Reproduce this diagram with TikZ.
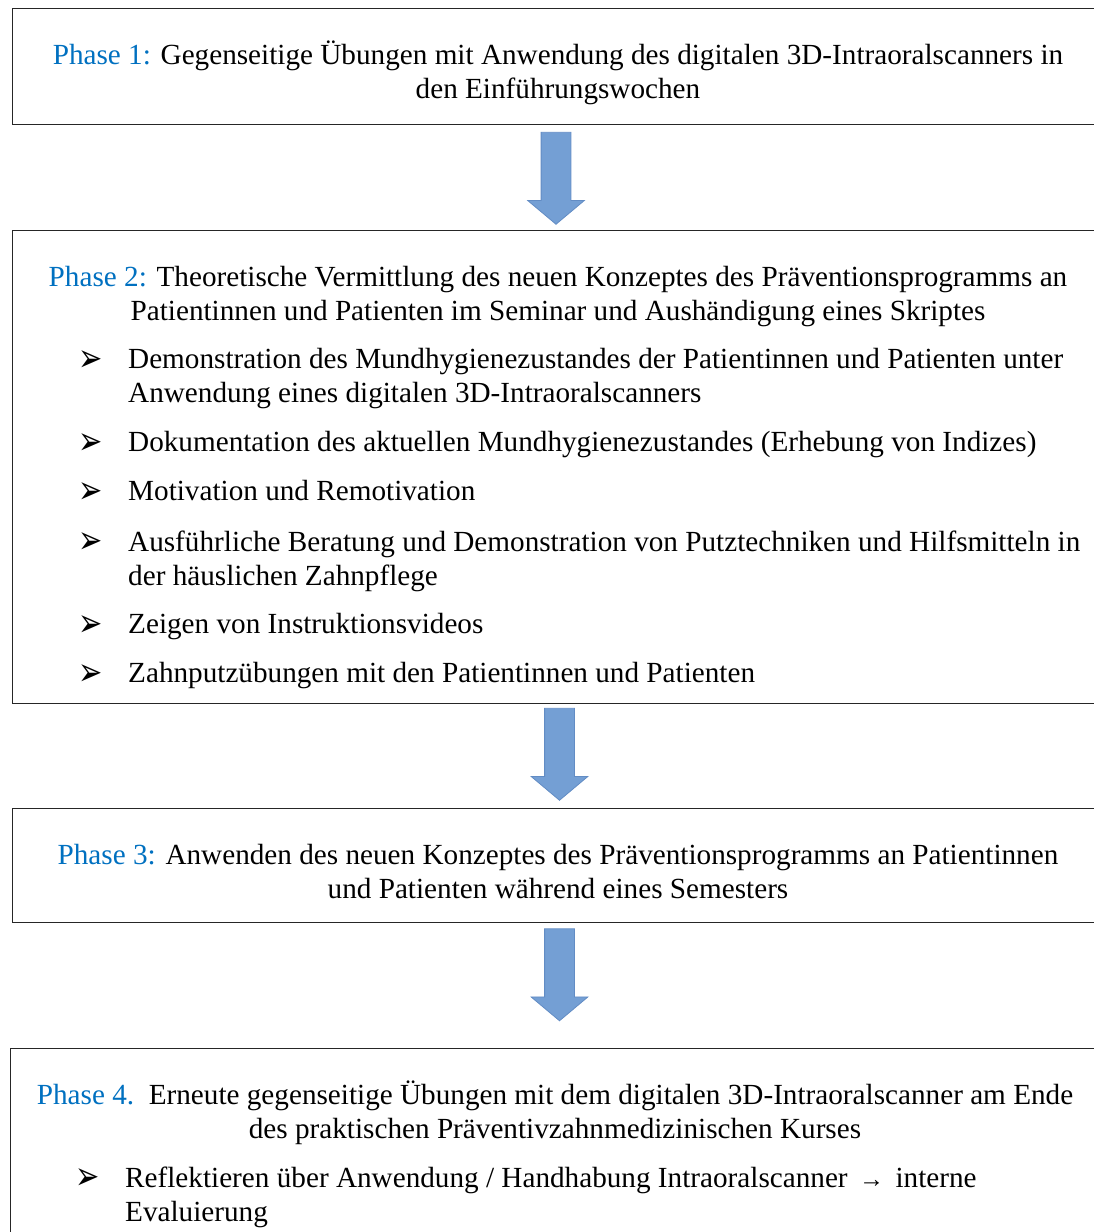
\documentclass[tikz,border=0pt]{standalone}
\usepackage{fontspec}
\setmainfont{Liberation Serif}
\newfontfamily\symfont{DejaVu Sans}
\usetikzlibrary{shapes,arrows,positioning,calc}
\definecolor{phaseblue}{RGB}{0,112,192}
\definecolor{arrowfill}{RGB}{116,159,212}
\definecolor{arrowline}{RGB}{98,140,196}
\tikzstyle{PhaseBox} = [draw=black!85, line width=1.2pt, rectangle, anchor=north west, minimum width=1094pt, inner sep=0pt]
\tikzstyle{Head} = [align=center, anchor=north, inner sep=0pt, font=\fontsize{29.2}{34}\selectfont, execute at begin node=\rule{0pt}{28pt}]
\tikzstyle{Item} = [align=left, anchor=north west, inner sep=0pt, font=\fontsize{29.2}{34}\selectfont, execute at begin node=\rule{0pt}{28pt}]
\tikzstyle{Bullet} = [anchor=base, inner sep=0pt, font=\symfont\fontsize{29}{34}\selectfont]
\tikzstyle{Flow} = [single arrow, rotate=-90, fill=arrowfill, draw=arrowline, line width=0.8pt, minimum height=92pt, inner xsep=0pt, inner ysep=14.5pt, single arrow head extend=13.5pt, single arrow tip angle=100]
\newcommand{\phase}[1]{\textcolor{phaseblue}{#1}}
\newcommand{\tick}{\scalebox{1}[1.35]{➢}}

\begin{document}
\begin{tikzpicture}[x=1pt,y=-1pt]
    \useasboundingbox (0,0) rectangle (1093,1232);
    % the four phases
    \node[PhaseBox, minimum height=116pt] (box1) at (12,8)    {};
    \node[PhaseBox, minimum height=473pt] (box2) at (12,230)  {};
    \node[PhaseBox, minimum height=114pt] (box3) at (12,808)  {};
    \node[PhaseBox, minimum height=250pt] (box4) at (10,1048) {};
    \node[Head] (head1) at (558,41) {\phase{Phase 1:} Gegenseitige Übungen mit Anwendung des digitalen 3D-Intraoralscanners in\\den Einführungswochen};
    \node[Head] (head2) at (558,266) {\phase{Phase 2:} Theoretische Vermittlung des neuen Konzeptes des Präventionsprogramms an\\Patientinnen und Patienten im Seminar und Aushändigung eines Skriptes};
    \node[Bullet] (b1) at (91,371) {\tick};
    \node[Item]   (i1) at (128,348) {Demonstration des Mundhygienezustandes der Patientinnen und Patienten unter\\Anwendung eines digitalen 3D-Intraoralscanners};
    \node[Bullet] (b2) at (91,454) {\tick};
    \node[Item]   (i2) at (128,423) {Dokumentation des aktuellen Mundhygienezustandes (Erhebung von Indizes)};
    \node[Bullet] (b3) at (91,503) {\tick};
    \node[Item]   (i3) at (128,472) {Motivation und Remotivation};
    \node[Bullet] (b4) at (91,553) {\tick};
    \node[Item]   (i4) at (128,531) {Ausführliche Beratung und Demonstration von Putztechniken und Hilfsmitteln in\\der häuslichen Zahnpflege};
    \node[Bullet] (b5) at (91,636) {\tick};
    \node[Item]   (i5) at (128,605) {Zeigen von Instruktionsvideos};
    \node[Bullet] (b6) at (91,685) {\tick};
    \node[Item]   (i6) at (128,654) {Zahnputzübungen mit den Patientinnen und Patienten};
    \node[Head] (head3) at (558,844) {\phase{Phase 3:} Anwenden des neuen Konzeptes des Präventionsprogramms an Patientinnen\\und Patienten während eines Semesters};
    \node[Head] (head4) at (555,1081) {\phase{Phase 4.}\ \ Erneute gegenseitige Übungen mit dem digitalen 3D-Intraoralscanner am Ende\\des praktischen Präventivzahnmedizinischen Kurses};
    \node[Bullet] (b7) at (88,1189) {\tick};
    \node[Item]   (i7) at (125,1167) {Reflektieren über Anwendung / Handhabung Intraoralscanner {\fontsize{25}{34}\selectfont\,→\,} interne\\Evaluierung};
    % block arrows between the phases
    \node[Flow] (arr1) at (556,172)   {};
    \node[Flow] (arr2) at (559.5,748) {};
    \node[Flow] (arr3) at (559.5,968.5) {};
\end{tikzpicture}
\end{document}
